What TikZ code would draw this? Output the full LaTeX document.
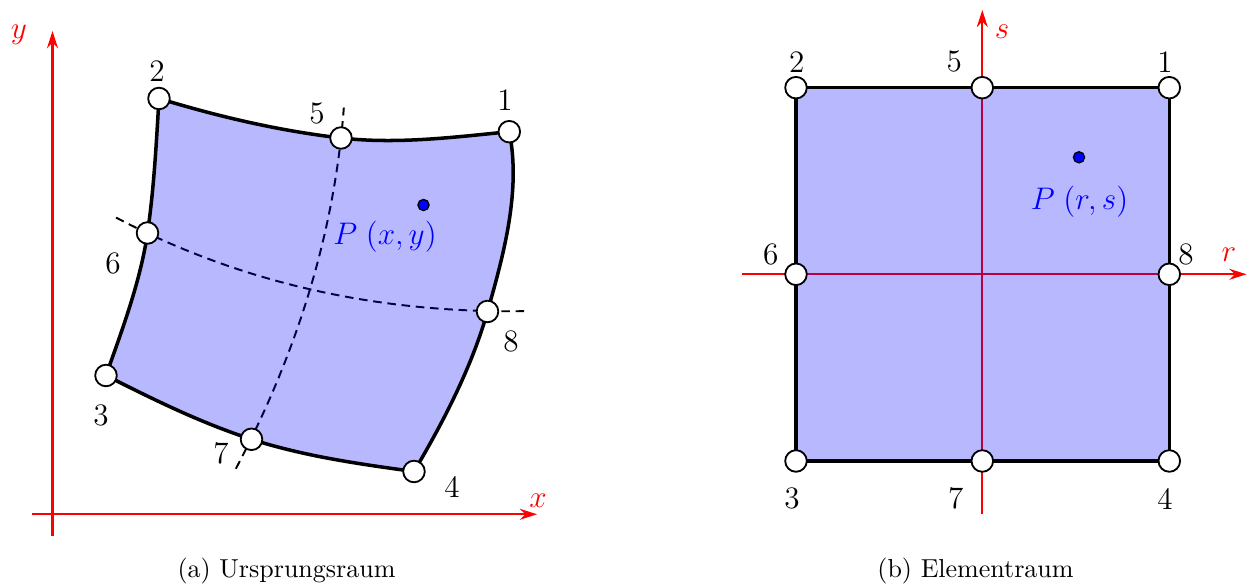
\documentclass[tikz,border=0pt]{standalone}
\usepackage{amsmath}
\usetikzlibrary{arrows.meta,positioning}

\begin{document}
\begin{tikzpicture}[x=0.013517cm, y=-0.013517cm,
    knoten/.style={draw, circle, fill=white, line width=0.7pt, minimum size=8.3pt, inner sep=0pt},
    nummer/.style={font=\large, inner sep=0pt},
    achse/.style={draw=red, line width=0.9pt, -{Stealth[length=6.6pt, width=4.2pt]}},
    achsname/.style={text=red, font=\large, inner sep=0pt},
    gitter/.style={draw=black, line width=0.75pt, dash pattern=on 3.3pt off 2.2pt},
    element/.style={draw=black, line width=1.35pt, fill=blue, fill opacity=0.28, line join=round},
    punkt/.style={draw=black, circle, fill=blue, line width=0.5pt, minimum size=4.3pt, inner sep=0pt},
    punktname/.style={text=blue, font=\large, inner sep=0pt},
    titel/.style={inner sep=0pt}]

    \useasboundingbox (0,0) rectangle (1247,585);

    % Ursprungsraum (links)
    \coordinate (yfuss) at (52.5,536);
    \coordinate (yspitze) at (52.5,31);
    \coordinate (xfuss) at (31.5,514.3);
    \coordinate (xspitze) at (537,514.3);
    \draw[achse] (yfuss) -- (yspitze);
    \draw[achse] (xfuss) -- (xspitze);
    \node[achsname] (yname) at (19,35) {$y$};
    \node[achsname] (xname) at (538,501) {$x$};

    \coordinate (pu1) at (509.3,131.7);
    \coordinate (pu2) at (159,98.5);
    \coordinate (pu3) at (106,375.5);
    \coordinate (pu4) at (414,471.5);
    \coordinate (pu5) at (341,138);
    \coordinate (pu6) at (147.5,233);
    \coordinate (pu7) at (251.5,439.3);
    \coordinate (pu8) at (487.5,311.5);

    % gestrichelte Linien r=0 und s=0
    \draw[gitter] plot[domain=-1.2:1.2, samples=41, smooth, variable=\t]
        ({310+45*\t-14*\t*\t}, {289.3-150.5*\t-0.8*\t*\t});
    \draw[gitter] plot[domain=-1.2:1.2, samples=41, smooth, variable=\t]
        ({310+170*\t+7*\t*\t}, {289.3+39*\t-17.3*\t*\t});

    % verzerrtes Element
    \draw[element] (pu2) .. controls (218.3,116.6) and (279.4,130.9) .. (pu5)
        .. controls (396.6,144.4) and (453.6,137.3) .. (pu1)
        .. controls (521.1,190.5) and (503.9,253.8) .. (pu8)
        .. controls (471.7,367.3) and (443.5,421.6) .. (pu4)
        .. controls (359.5,464.1) and (303.8,456.2) .. (pu7)
        .. controls (201.1,423) and (153.2,399.4) .. (pu3)
        .. controls (122.3,329.3) and (140.4,281.5) .. (pu6)
        .. controls (154,188.5) and (156.3,143.4) .. (pu2)
        -- cycle;

    \foreach \i in {1,...,8}
        \node[knoten] (u\i) at (pu\i) {};

    \node[nummer] (lu1) at (505,100) {1};
    \node[nummer] (lu2) at (157,71) {2};
    \node[nummer] (lu3) at (101,415) {3};
    \node[nummer] (lu4) at (452,486.5) {4};
    \node[nummer] (lu5) at (317,113) {5};
    \node[nummer] (lu6) at (113,263) {6};
    \node[nummer] (lu7) at (221,453) {7};
    \node[nummer] (lu8) at (511,341.5) {8};

    \node[punkt] (pxy) at (423.5,205) {};
    \node[punktname] (lpxy) at (385,237) {$P\;(x,y)$};

    \node[titel] (ta) at (286.5,570.8) {(a) Ursprungsraum};

    % Elementraum (rechts)
    \coordinate (sfuss) at (982.3,514.3);
    \coordinate (sspitze) at (982.3,10);
    \coordinate (rfuss) at (741.7,274.3);
    \coordinate (rspitze) at (1246.5,274.3);
    \draw[achse] (sfuss) -- (sspitze);
    \draw[achse] (rfuss) -- (rspitze);
    \node[achsname] (sname) at (1002,32) {$s$};
    \node[achsname] (rname) at (1229,255) {$r$};

    \coordinate (pe1) at (1169.3,87.7);
    \coordinate (pe2) at (796,87.7);
    \coordinate (pe3) at (796,461);
    \coordinate (pe4) at (1169.3,461);
    \coordinate (pe5) at (982.3,87.7);
    \coordinate (pe6) at (796,274.3);
    \coordinate (pe7) at (982.3,461);
    \coordinate (pe8) at (1169.3,274.3);

    \draw[element] (pe2) -- (pe5) -- (pe1) -- (pe8) -- (pe4) -- (pe7) -- (pe3) -- (pe6) -- cycle;

    \foreach \i in {1,...,8}
        \node[knoten] (e\i) at (pe\i) {};

    \node[nummer] (le1) at (1165,61.7) {1};
    \node[nummer] (le2) at (796.7,61.7) {2};
    \node[nummer] (le3) at (792,498.5) {3};
    \node[nummer] (le4) at (1165,498.5) {4};
    \node[nummer] (le5) at (954.3,61.7) {5};
    \node[nummer] (le6) at (770.7,254) {6};
    \node[nummer] (le7) at (955.7,498.5) {7};
    \node[nummer] (le8) at (1186,254) {8};

    \node[punkt] (prs) at (1079,157.3) {};
    \node[punktname] (lprs) at (1079.5,201.7) {$P\;(r,s)$};

    \node[titel] (tb) at (975.5,570.8) {(b) Elementraum};
\end{tikzpicture}
\end{document}
